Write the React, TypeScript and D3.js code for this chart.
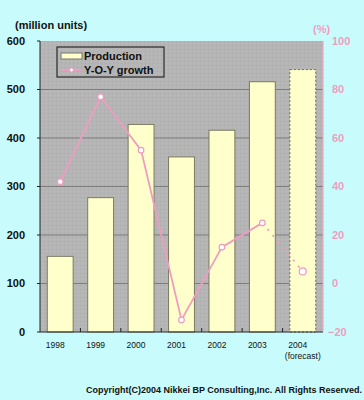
import React from "react";
import * as d3 from "d3";

const years = ["1998", "1999", "2000", "2001", "2002", "2003", "2004"];
const production = [156, 277, 428, 361, 416, 516, 541];
const growth = [42, 77, 55, -15, 15, 25, 5];
const leftTicks = [0, 100, 200, 300, 400, 500, 600];
const rightTicks = [-20, 0, 20, 40, 60, 80, 100];

export default function App() {
  const width = 364;
  const height = 400;
  const margin = { top: 41, right: 41, bottom: 68, left: 40 };
  const innerW = width - margin.left - margin.right;
  const innerH = height - margin.top - margin.bottom;

  const x = d3.scaleBand().domain(years).range([0, innerW]).paddingInner(0.36).paddingOuter(0.18);
  const y = d3.scaleLinear().domain([0, 600]).range([innerH, 0]);
  const y2 = d3.scaleLinear().domain([-20, 100]).range([innerH, 0]);

  const cx = (i: number) => (x(years[i]) as number) + x.bandwidth() / 2;

  // solid segment up to 2003, dotted for the 2004 forecast
  const solidPath = d3
    .line<number>()
    .x((_, i) => cx(i))
    .y((d) => y2(d))(growth.slice(0, 6)) as string;
  const dashedPath = d3
    .line<number>()
    .x((_, i) => cx(i + 5))
    .y((d) => y2(d))(growth.slice(5)) as string;

  const pink = "#f09cc0";
  const font = "'Liberation Sans', Arial, sans-serif";

  return (
    <div style={{ position: "absolute", left: 0, top: 0 }}>
      <svg width={width} height={height} style={{ display: "block" }} fontFamily={font}>
        <defs>
          <pattern id="noise" width="4" height="4" patternUnits="userSpaceOnUse">
            <rect width="4" height="4" fill="#b5b5b5" />
            <rect x="0" y="0" width="1" height="1" fill="#aaaaaa" />
            <rect x="2" y="2" width="1" height="1" fill="#bdbdbd" />
          </pattern>
        </defs>
        <rect width={width} height={height} fill="#c8fcfc" />
        <g transform={`translate(${margin.left},${margin.top})`}>
          <rect width={innerW} height={innerH} fill="url(#noise)" />
          {leftTicks.slice(1, -1).map((t) => (
            <line key={t} x1={0} x2={innerW} y1={y(t)} y2={y(t)} stroke="#7c7c7c" strokeWidth={1} />
          ))}
          {production.map((v, i) => (
            <rect
              key={years[i]}
              x={x(years[i])}
              y={y(v)}
              width={x.bandwidth()}
              height={innerH - y(v)}
              fill="#ffffcc"
              stroke={i === 6 ? "#6a6a50" : "#7a7a60"}
              strokeWidth={1}
              strokeDasharray={i === 6 ? "2,2" : undefined}
            />
          ))}
          {/* axes */}
          <line x1={0} x2={0} y1={0} y2={innerH} stroke="#222" />
          <line x1={0} x2={innerW} y1={innerH} y2={innerH} stroke="#222" />
          <line x1={innerW} x2={innerW} y1={0} y2={innerH} stroke={pink} />
          {leftTicks.map((t) => (
            <line key={t} x1={-3} x2={0} y1={y(t)} y2={y(t)} stroke="#222" />
          ))}
          {years.slice(1).map((yr) => {
            const tx = (x(yr) as number) - (x.step() - x.bandwidth()) / 2;
            return <line key={yr} x1={tx} x2={tx} y1={innerH} y2={innerH - 4} stroke="#222" />;
          })}
          {/* growth line */}
          <path d={solidPath} fill="none" stroke={pink} strokeWidth={1.8} />
          <path d={dashedPath} fill="none" stroke={pink} strokeWidth={1.8} strokeDasharray="2,6" />
          {growth.map((g, i) => (
            <circle
              key={years[i]}
              cx={cx(i)}
              cy={y2(g)}
              r={i === 6 ? 3.5 : 2.8}
              fill="#ffffff"
              stroke={pink}
              strokeWidth={1.2}
            />
          ))}
          {/* legend */}
          <g transform="translate(17,6)">
            <rect width={107} height={30} fill="url(#noise)" stroke="#111" strokeWidth={1} />
            <rect x={4} y={6} width={21} height={6} fill="#ffffcc" stroke="#777" />
            <text x={27} y={13} fontSize={11} fontWeight="bold" fill="#111">
              Production
            </text>
            <line x1={4} x2={25} y1={23} y2={23} stroke={pink} strokeWidth={2} />
            <circle cx={14.5} cy={23} r={2} fill="#fff" stroke={pink} />
            <text x={27} y={27} fontSize={11} fontWeight="bold" fill="#111">
              Y-O-Y growth
            </text>
          </g>
        </g>
        {/* left tick labels */}
        {leftTicks.map((t) => (
          <text
            key={t}
            x={25}
            y={margin.top + y(t)}
            dy="0.35em"
            textAnchor="end"
            fontSize={11}
            fontWeight="bold"
            fill="#111"
          >
            {t}
          </text>
        ))}
        {rightTicks.map((t) => (
          <text
            key={t}
            x={t < 0 ? 328 : 332}
            y={margin.top + y2(t)}
            dy="0.35em"
            fontSize={11}
            fontWeight="bold"
            fill={pink}
          >
            {t < 0 ? "\u2212" + Math.abs(t) : t}
          </text>
        ))}
        <text x={15} y={29} fontSize={11} fontWeight="bold" fill="#111">
          (million units)
        </text>
        <text x={313} y={33} fontSize={11} fontWeight="bold" fill={pink}>
          (%)
        </text>
        {years.map((yr, i) => (
          <text key={yr} x={margin.left + cx(i) - 5} y={348} textAnchor="middle" fontSize={8.5} fill="#111">
            {yr}
          </text>
        ))}
        <text x={margin.left + cx(6)} y={359} textAnchor="middle" fontSize={8.5} fill="#111">
          (forecast)
        </text>
        <text x={362} y={393} textAnchor="end" fontSize={9} fontWeight="bold" fill="#111">
          Copyright(C)2004 Nikkei BP Consulting,Inc. All Rights Reserved.
        </text>
      </svg>
    </div>
  );
}
